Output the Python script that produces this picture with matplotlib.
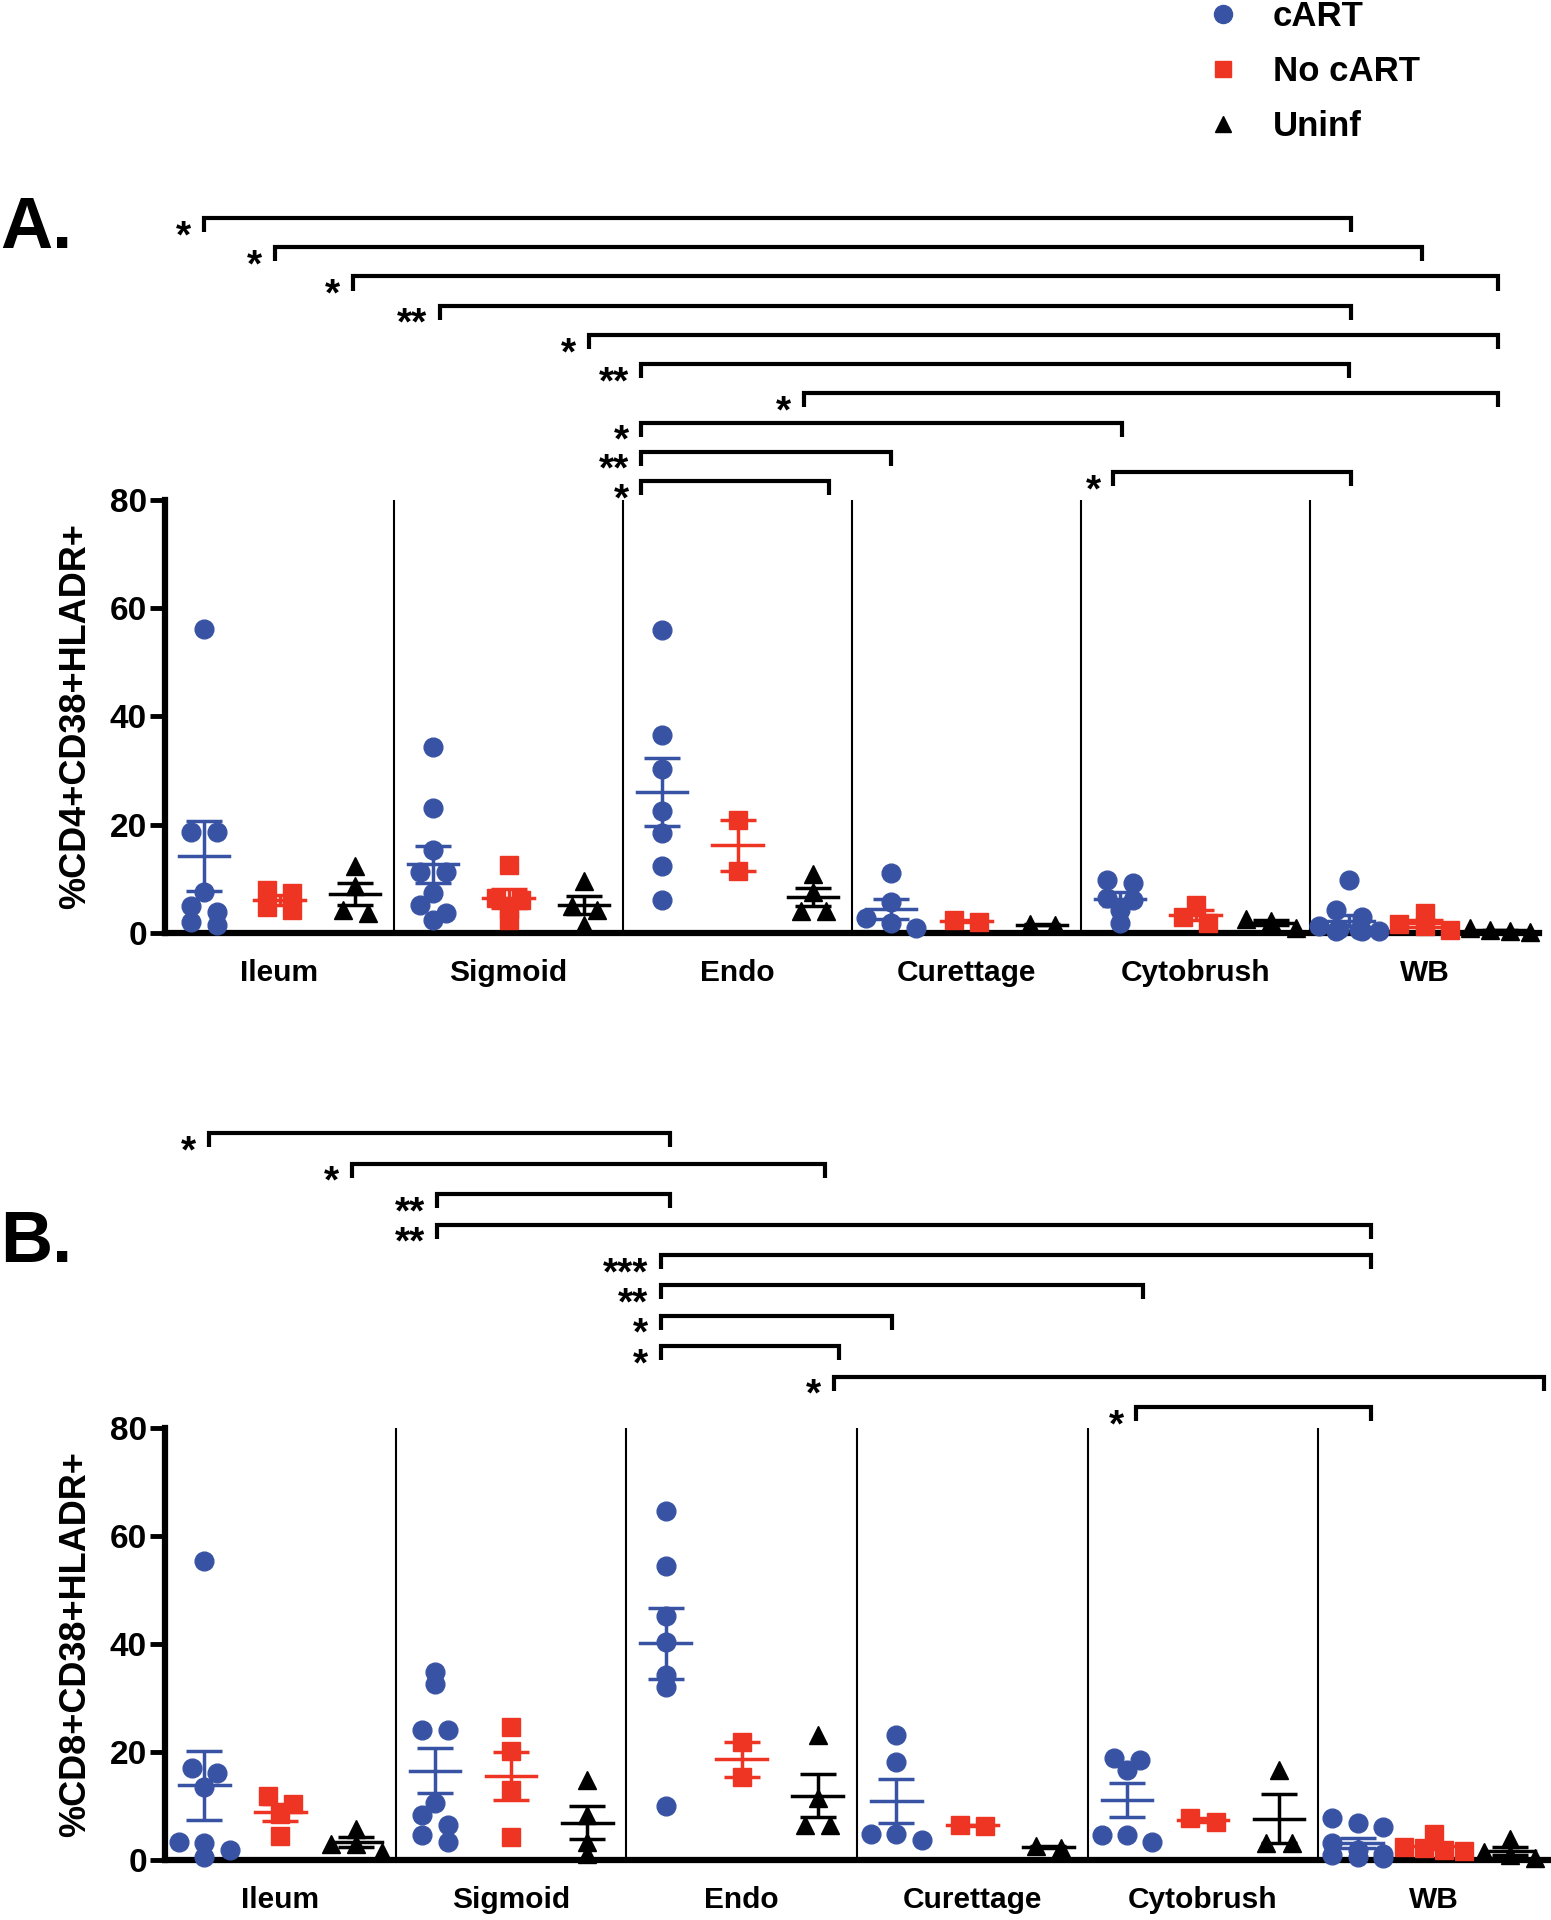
import matplotlib
matplotlib.use('Agg')
import matplotlib.pyplot as plt
import numpy as np
from matplotlib.lines import Line2D

SITES = ['Ileum', 'Sigmoid', 'Endo', 'Curettage', 'Cytobrush', 'WB']
GROUPS = ['cART', 'No cART', 'Uninf']

# A. %CD4+CD38+HLADR+ (one list per site)
cd4_cart = [
    [56.2, 18.6, 18.6, 7.6, 4.9, 3.9, 2.1, 1.5],
    [34.4, 23.0, 15.3, 11.3, 11.3, 7.3, 5.2, 3.6, 2.4],
    [56.0, 36.6, 30.2, 22.5, 18.5, 12.4, 6.1],
    [11.0, 5.8, 2.8, 1.8, 1.0],
    [9.8, 9.2, 6.4, 6.1, 4.2, 1.8],
    [9.8, 4.2, 3.0, 1.2, 0.8, 0.5, 0.4, 0.3, 0.3],
]
cd4_nocart = [
    [8.0, 7.4, 4.8, 4.2],
    [12.6, 6.5, 6.0, 4.5, 2.4],
    [20.9, 11.5],
    [2.3, 2.0],
    [5.2, 3.0, 1.8],
    [3.6, 1.6, 1.3, 0.6],
]
cd4_uninf = [
    [12.3, 8.6, 4.2, 3.6],
    [9.6, 5.0, 4.3, 1.5],
    [10.9, 7.6, 4.0, 4.0],
    [1.7, 1.4],
    [2.5, 2.2, 0.9],
    [0.9, 0.5, 0.3, 0.2],
]

# B. %CD8+CD38+HLADR+
cd8_cart = [
    [55.3, 17.0, 16.1, 13.6, 3.4, 3.1, 1.9, 0.6],
    [34.9, 32.6, 24.0, 24.0, 10.5, 8.3, 6.5, 4.6, 3.4],
    [64.7, 54.4, 45.1, 40.3, 34.3, 32.0, 10.0],
    [23.2, 18.2, 4.9, 4.9, 3.7],
    [18.8, 18.5, 16.7, 4.6, 4.6, 3.4],
    [7.7, 6.8, 6.2, 3.1, 1.8, 1.2, 0.9, 0.6, 0.4],
]
cd8_nocart = [
    [11.8, 10.3, 8.6, 4.5],
    [24.7, 20.1, 13.0, 4.3],
    [21.9, 15.4],
    [6.5, 6.3],
    [7.7, 7.1],
    [4.9, 2.5, 2.2, 1.8, 1.6],
]
cd8_uninf = [
    [5.8, 3.0, 2.9, 1.5],
    [14.8, 8.3, 3.4, 1.2],
    [23.2, 11.4, 6.5, 6.5],
    [2.6, 2.2],
    [16.7, 3.1, 3.1],
    [3.8, 1.4, 1.0, 0.3],
]

# significance brackets: (from, to, row, stars), row 0 = lowest line
cd4_brackets = [
    (-0.33, 4.68, 9, '*'),
    (-0.02, 4.99, 8, '*'),
    (0.32, 5.32, 7, '*'),
    (0.70, 4.68, 6, '**'),
    (1.35, 5.32, 5, '*'),
    (1.58, 4.67, 4, '**'),
    (2.29, 5.32, 3, '*'),
    (1.58, 3.68, 2, '*'),
    (1.58, 2.67, 1, '**'),
    (1.58, 2.40, 0, '*'),
    (3.64, 4.68, 0.3, '*'),
]
cd8_brackets = [
    (-0.31, 1.69, 9, '*'),
    (0.31, 2.36, 8, '*'),
    (0.68, 1.69, 7, '**'),
    (0.68, 4.73, 6, '**'),
    (1.65, 4.73, 5, '***'),
    (1.65, 3.74, 4, '**'),
    (1.65, 2.65, 3, '*'),
    (1.65, 2.42, 2, '*'),
    (2.40, 5.48, 1, '*'),
    (3.71, 4.73, 0, '*'),
]

COLORS = ['#3953A4', '#EE3524', 'black']
MARKERS = ['o', 's', '^']
MSIZES = [13.5, 12.5, 13.5]

plt.rcParams['font.family'] = ['Liberation Sans', 'DejaVu Sans']
plt.rcParams['font.weight'] = 'bold'


def swarm(vals, thr=2.0, max_row=4):
    # spread points of similar value sideways, GraphPad style
    rows = []
    for v in sorted(vals, reverse=True):
        if rows and rows[-1][0] - v < thr and len(rows[-1]) < max_row:
            rows[-1].append(v)
        else:
            rows.append([v])
    xs, ys = [], []
    for row in rows:
        n = len(row)
        step = min(0.11, 0.26 / max(n - 1, 1))
        for j, v in enumerate(row):
            xs.append((j - (n - 1) / 2) * step)
            ys.append(v)
    return np.array(xs), np.array(ys)


def draw_panel(ax, series, brackets, base, step):
    offsets = [-0.33, 0, 0.33]
    for k, data in enumerate(series):
        for i, vals in enumerate(data):
            xc = i + offsets[k]
            dx, vy = swarm(vals)
            ax.plot(xc + dx, vy, ls='none', marker=MARKERS[k], ms=MSIZES[k],
                    color=COLORS[k], mec=COLORS[k], clip_on=False, zorder=3)
            m = np.mean(vals)
            sem = np.std(vals, ddof=1) / np.sqrt(len(vals))
            ax.errorbar(xc, m, yerr=sem, fmt='none', ecolor=COLORS[k], elinewidth=2.5,
                        capsize=13, capthick=2.5, zorder=4, clip_on=False)
            ax.plot([xc - 0.11, xc + 0.11], [m, m], color=COLORS[k], lw=2.5, zorder=4)

    ax.vlines(np.arange(5) + 0.5, 0, 80, color='black', lw=1.5)

    tick = 2.6
    for x1, x2, row, stars in brackets:
        y = base + row * step
        ax.plot([x1, x1, x2, x2], [y - tick, y, y, y - tick], color='black', lw=3,
                clip_on=False, solid_joinstyle='miter', solid_capstyle='butt')
        ax.annotate(stars, (x1, y), xytext=(-9, -21), textcoords='offset points',
                    ha='right', va='baseline', fontsize=28, fontweight='bold',
                    annotation_clip=False)

    ax.set_xlim(-0.5, 5.5)
    ax.set_ylim(0, 80)
    ax.set_yticks([0, 20, 40, 60, 80])
    ax.set_xticks(range(len(SITES)), SITES)
    for s in ['top', 'right']:
        ax.spines[s].set_visible(False)
    for s in ['left', 'bottom']:
        ax.spines[s].set_linewidth(4.5)
    ax.tick_params(axis='y', length=11, width=3.5, pad=2, labelsize=24)
    ax.tick_params(axis='x', length=0, pad=19, labelsize=21.5)


fig = plt.figure(figsize=(15.51, 19.2), dpi=100)

axA = fig.add_axes([0.1064, 0.5141, 0.8859, 0.2255])
draw_panel(axA, [cd4_cart, cd4_nocart, cd4_uninf], cd4_brackets, 83.5, 5.4)
fig.text(76 / 1551, 1 - 716 / 1920, '%CD4+CD38+HLADR+', rotation=90, ha='center', va='center',
         fontsize=26, fontweight='bold')

axB = fig.add_axes([0.1064, 0.03125, 0.8923, 0.225])
draw_panel(axB, [cd8_cart, cd8_nocart, cd8_uninf], cd8_brackets, 83.9, 5.63)
fig.text(76 / 1551, 1 - 1644 / 1920, '%CD8+CD38+HLADR+', rotation=90, ha='center', va='center',
         fontsize=26, fontweight='bold')

fig.text(0.0, 1 - 248 / 1920, 'A.', fontsize=52, fontweight='bold', ha='left', va='baseline')
fig.text(0.0, 1 - 1262 / 1920, 'B.', fontsize=52, fontweight='bold', ha='left', va='baseline')

handles = [Line2D([], [], ls='none', marker=m, color=c, ms=s)
           for m, c, s in zip(MARKERS, COLORS, [13, 12, 11])]
fig.legend(handles, GROUPS, loc='upper left', bbox_to_anchor=(1206 / 1551, 1.0),
           frameon=False, prop={'family': 'Liberation Sans', 'weight': 'bold', 'size': 25},
           handlelength=1.0, handletextpad=0.93, labelspacing=0.64,
           borderpad=0, borderaxespad=0)

fig.savefig('out.png', dpi=100)
